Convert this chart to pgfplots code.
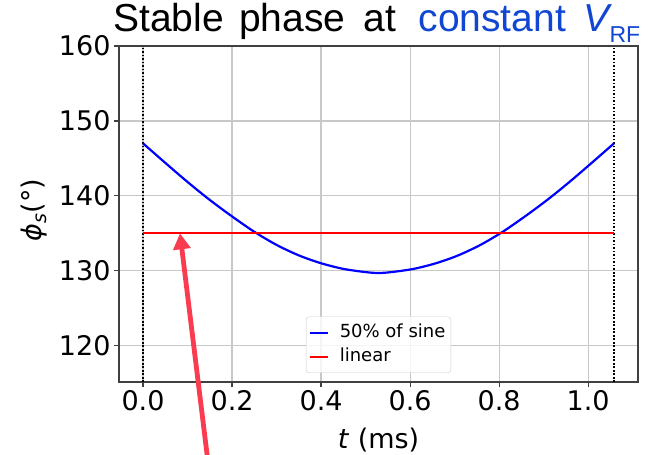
\documentclass[border=0pt]{standalone}
\usepackage{fontspec}
\setmainfont{DejaVu Sans}
\newfontfamily\arial{Liberation Sans}
\usepackage{pgfplots}
\pgfplotsset{compat=1.18}
\usetikzlibrary{arrows.meta}
\definecolor{ttlblue}{RGB}{16,70,210}
\definecolor{arrowred}{RGB}{250,60,80}
\definecolor{gridgray}{RGB}{200,200,200}
\begin{document}
\begin{tikzpicture}
\begin{axis}[
  at={(0,0)}, anchor=south west, scale only axis,
  width=519pt, height=336pt,
  xmin=-0.054, xmax=1.112, ymin=115.15, ymax=160,
  xtick={0,0.2,0.4,0.6,0.8,1.0}, ytick={120,130,140,150,160},
  xticklabels={0.0,0.2,0.4,0.6,0.8,1.0},
  grid=major, major grid style={gridgray, line width=1.2pt},
  axis line style={black!75, line width=1.3pt},
  tick align=outside, major tick length=5pt,
  tick style={black!75, line width=1.2pt},
  xtick pos=bottom, ytick pos=left,
  tick label style={font=\fontsize{27}{32}\selectfont},
  /pgf/number format/assume math mode=true,
  xlabel={\textit{t} (ms)},
  xlabel style={at={(axis description cs:0.5,0)}, anchor=base, yshift=-66pt, font=\fontsize{27}{32}\selectfont},
  ylabel={{\itshape ϕ\raisebox{-5pt}{\fontsize{19}{22}\selectfont s}}(°)},
  ylabel style={at={(axis description cs:-0.164,0.512)}, anchor=center, font=\fontsize{27}{32}\selectfont},
  clip=false,
  legend style={at={(0.5,0.027)}, anchor=south, font=\fontsize{18}{21}\selectfont,
    draw=black!20, rounded corners=3pt, fill=white, fill opacity=0.8, text opacity=1,
    inner xsep=2.5pt, inner ysep=6pt, row sep=4pt, column sep=8pt,
    nodes={inner xsep=3pt, inner ysep=1.5pt, text height=13.5pt, text depth=3.5pt}},
  legend cell align=left,
  legend image code/.code={\draw[#1] (0pt,0pt) -- (18pt,0pt);},
]
\addplot[black, line width=2pt, dash pattern=on 1.8pt off 1.7pt, forget plot] coordinates {(0,115.15) (0,160)};
\addplot[black, line width=2pt, dash pattern=on 1.8pt off 1.7pt, forget plot] coordinates {(1.058,115.15) (1.058,160)};
\addplot[blue, line width=2.2pt, smooth] coordinates {
(0,147.0) (0.05,144.4) (0.10,141.85) (0.15,139.45) (0.20,137.25) (0.25,135.2)
(0.30,133.45) (0.35,132.05) (0.40,131.0) (0.45,130.25) (0.50,129.82) (0.529,129.7)
(0.558,129.82) (0.608,130.25) (0.658,131.0) (0.708,132.05) (0.758,133.45) (0.808,135.2)
(0.858,137.25) (0.908,139.45) (0.958,141.85) (1.008,144.4) (1.058,147.0)};
\addlegendentry{50\% of sine}
\addplot[red, line width=2pt] coordinates {(0,135) (1.058,135)};
\addlegendentry{linear}
\draw[arrowred, line width=4.8pt, -{Triangle[length=16pt,width=17pt]}] (axis cs:0.144,105.4) -- (axis cs:0.083,135);
\end{axis}
\begin{scope}[every node/.style={anchor=base west, inner sep=0pt, font=\arial\fontsize{39}{44}\selectfont}]
\node at (-5.8pt,350pt) {Stable};
\node at (120pt,350pt) {phase};
\node at (244.5pt,350pt) {at};
\node[text=ttlblue] at (299.4pt,350pt) {constant};
\node[text=ttlblue] at (464pt,350pt) {\itshape V};
\node[text=ttlblue, font=\arial\fontsize{23}{26}\selectfont] at (490.3pt,339pt) {RF};
\end{scope}
\pgfresetboundingbox
\useasboundingbox (-119pt,-73pt) rectangle (537pt,382pt);
\end{tikzpicture}
\end{document}
